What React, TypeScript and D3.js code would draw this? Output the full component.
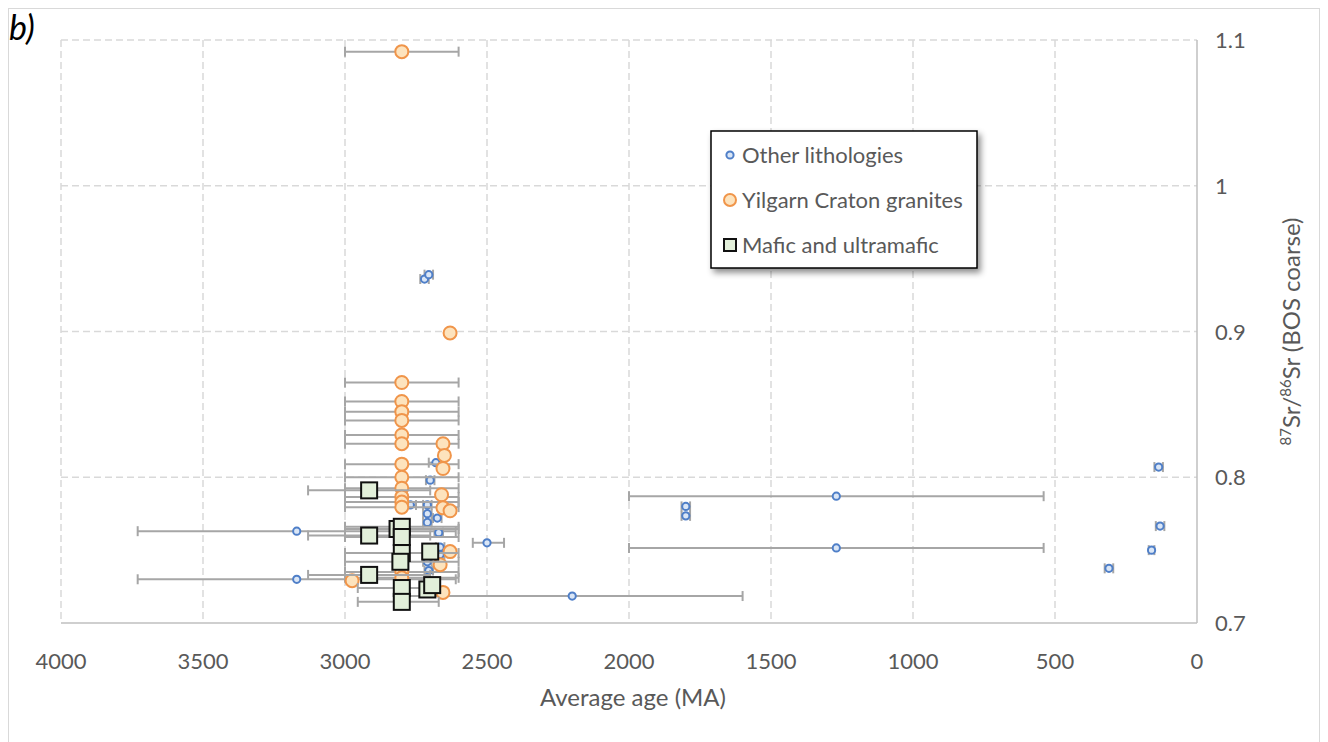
import { useEffect, useRef } from "react";
import * as d3 from "d3";

// [average age, 87Sr/86Sr, age min, age max]
type Row = [number, number, number, number];

const otherLithologies: Row[] = [
  [2720, 0.936, 2735, 2705],
  [2705, 0.939, 2720, 2690],
  [2680, 0.81, 2705, 2660],
  [2700, 0.798, 2715, 2685],
  [2770, 0.781, 2790, 2750],
  [2710, 0.781, 2725, 2695],
  [2710, 0.775, 2725, 2695],
  [2710, 0.769, 2725, 2695],
  [2675, 0.772, 2690, 2660],
  [2670, 0.762, 2685, 2655],
  [2665, 0.752, 2680, 2650],
  [2665, 0.747, 2680, 2650],
  [2710, 0.742, 2725, 2695],
  [2705, 0.736, 2720, 2690],
  [3170, 0.763, 3730, 2610],
  [3170, 0.73, 3730, 2610],
  [2500, 0.755, 2550, 2440],
  [2200, 0.7185, 2800, 1600],
  [1270, 0.787, 2000, 540],
  [1270, 0.7515, 2000, 540],
  [1800, 0.78, 1815, 1785],
  [1800, 0.7735, 1815, 1785],
  [135, 0.807, 150, 120],
  [130, 0.7665, 145, 115],
  [160, 0.75, 170, 150],
  [310, 0.7375, 325, 295],
];

const yilgarnGranites: Row[] = [
  [2800, 1.092, 3000, 2600],
  [2800, 0.865, 3000, 2600],
  [2800, 0.852, 3000, 2600],
  [2800, 0.845, 3000, 2600],
  [2800, 0.839, 3000, 2600],
  [2800, 0.829, 3000, 2600],
  [2800, 0.823, 3000, 2600],
  [2800, 0.809, 3000, 2600],
  [2800, 0.8, 3000, 2600],
  [2800, 0.7925, 3000, 2600],
  [2800, 0.7865, 3000, 2600],
  [2800, 0.783, 3000, 2600],
  [2800, 0.7795, 3000, 2600],
  [2800, 0.735, 3000, 2600],
  [2800, 0.731, 3000, 2600],
  [2630, 0.899, 2640, 2620],
  [2655, 0.823, 2660, 2650],
  [2650, 0.815, 2655, 2645],
  [2655, 0.806, 2660, 2650],
  [2660, 0.788, 2665, 2655],
  [2655, 0.779, 2660, 2650],
  [2630, 0.777, 2635, 2625],
  [2630, 0.749, 2635, 2625],
  [2665, 0.74, 2670, 2660],
  [2655, 0.721, 2660, 2650],
  [2975, 0.729, 2985, 2965],
];

const maficUltramafic: Row[] = [
  [2915, 0.791, 3130, 2700],
  [2915, 0.76, 3130, 2700],
  [2915, 0.733, 3130, 2700],
  [2815, 0.7645, 3000, 2600],
  [2800, 0.766, 3000, 2600],
  [2800, 0.759, 3000, 2600],
  [2800, 0.748, 3000, 2600],
  [2805, 0.742, 3000, 2600],
  [2800, 0.724, 2955, 2670],
  [2800, 0.7145, 2955, 2670],
  [2700, 0.749, 2710, 2690],
  [2710, 0.723, 2720, 2700],
  [2693, 0.726, 2705, 2680],
];

const xTicks = [4000, 3500, 3000, 2500, 2000, 1500, 1000, 500, 0];
const yTicks = [0.7, 0.8, 0.9, 1, 1.1];
const legendLabels = ["Other lithologies", "Yilgarn Craton granites", "Mafic and ultramafic"];

const FONT = "Lato, 'Open Sans', sans-serif";
const TEXT = "#595959";

export default function App() {
  const svgRef = useRef<SVGSVGElement | null>(null);

  useEffect(() => {
    document.body.style.margin = "0";
    const width = 1328;
    const height = 742;
    const plot = { left: 61, right: 1197, top: 40, bottom: 623 };

    const svg = d3.select(svgRef.current);
    svg.selectAll("*").remove(); // clean before drawing
    svg.attr("width", width).attr("height", height).style("display", "block");

    const x = d3.scaleLinear().domain([4000, 0]).range([plot.left, plot.right]);
    const y = d3.scaleLinear().domain([0.7, 1.1]).range([plot.bottom, plot.top]);

    svg
      .append("rect")
      .attr("x", 8.5)
      .attr("y", 8.5)
      .attr("width", 1311)
      .attr("height", 740)
      .attr("fill", "#fff")
      .attr("stroke", "#d9d9d9");

    svg
      .append("text")
      .attr("x", 9)
      .attr("y", 40)
      .attr("font-family", FONT)
      .attr("font-style", "italic")
      .attr("font-size", 34)
      .attr("fill", "#000")
      .text("b)");

    // gridlines
    const grid = svg.append("g").attr("stroke", "#d9d9d9").attr("stroke-width", 1.5).attr("stroke-dasharray", "7,4");
    xTicks
      .filter((t) => t !== 0)
      .forEach((t) => {
        grid.append("line").attr("x1", x(t)).attr("x2", x(t)).attr("y1", y(1.1)).attr("y2", y(0.7));
      });
    yTicks
      .filter((t) => t !== 0.7)
      .forEach((t) => {
        grid.append("line").attr("x1", x(4000)).attr("x2", x(0)).attr("y1", y(t)).attr("y2", y(t));
      });

    // axis lines
    svg
      .append("line")
      .attr("x1", x(4000))
      .attr("x2", x(0))
      .attr("y1", y(0.7))
      .attr("y2", y(0.7))
      .attr("stroke", "#bfbfbf")
      .attr("stroke-width", 1.5);
    svg
      .append("line")
      .attr("x1", x(0))
      .attr("x2", x(0))
      .attr("y1", y(1.1))
      .attr("y2", y(0.7))
      .attr("stroke", "#bfbfbf")
      .attr("stroke-width", 1.5);

    // tick labels
    svg
      .append("g")
      .selectAll("text")
      .data(xTicks)
      .join("text")
      .attr("x", (d) => x(d))
      .attr("y", 669)
      .attr("text-anchor", "middle")
      .attr("font-family", FONT)
      .attr("font-size", 22)
      .attr("fill", TEXT)
      .text((d) => String(d));

    svg
      .append("g")
      .selectAll("text")
      .data(yTicks)
      .join("text")
      .attr("x", 1215)
      .attr("y", (d) => y(d) + 8)
      .attr("font-family", FONT)
      .attr("font-size", 22)
      .attr("fill", TEXT)
      .text((d) => String(d));

    svg
      .append("text")
      .attr("x", (plot.left + plot.right) / 2 + 4)
      .attr("y", 706)
      .attr("text-anchor", "middle")
      .attr("font-family", FONT)
      .attr("font-size", 24)
      .attr("fill", TEXT)
      .text("Average age (MA)");

    const yTitle = svg
      .append("text")
      .attr("transform", `translate(1300,${(plot.top + plot.bottom) / 2}) rotate(-90)`)
      .attr("text-anchor", "middle")
      .attr("font-family", FONT)
      .attr("font-size", 24)
      .attr("fill", TEXT);
    yTitle.append("tspan").attr("font-size", 15).attr("dy", -9).text("87");
    yTitle.append("tspan").attr("dy", 9).text("Sr/");
    yTitle.append("tspan").attr("font-size", 15).attr("dy", -9).text("86");
    yTitle.append("tspan").attr("dy", 9).text("Sr (BOS coarse)");

    const errorBars = (rows: Row[]) => {
      const g = svg.append("g").attr("stroke", "#a6a6a6").attr("stroke-width", 2).attr("fill", "none");
      rows.forEach((r) => {
        const yy = y(r[1]);
        g.append("line").attr("x1", x(r[2])).attr("x2", x(r[3])).attr("y1", yy).attr("y2", yy);
        [r[2], r[3]].forEach((v) => {
          g.append("line").attr("x1", x(v)).attr("x2", x(v)).attr("y1", yy - 5).attr("y2", yy + 5);
        });
      });
    };

    // other lithologies
    errorBars(otherLithologies);
    svg
      .append("g")
      .selectAll("circle")
      .data(otherLithologies)
      .join("circle")
      .attr("cx", (d) => x(d[0]))
      .attr("cy", (d) => y(d[1]))
      .attr("r", 3.6)
      .attr("fill", "#dae6f6")
      .attr("stroke", "#4f7fc8")
      .attr("stroke-width", 2);

    // yilgarn craton granites
    errorBars(yilgarnGranites);
    svg
      .append("g")
      .selectAll("circle")
      .data(yilgarnGranites)
      .join("circle")
      .attr("cx", (d) => x(d[0]))
      .attr("cy", (d) => y(d[1]))
      .attr("r", 6.5)
      .attr("fill", "#fde3bd")
      .attr("stroke", "#f0954a")
      .attr("stroke-width", 2);

    // mafic and ultramafic
    errorBars(maficUltramafic);
    svg
      .append("g")
      .selectAll("rect")
      .data(maficUltramafic)
      .join("rect")
      .attr("x", (d) => x(d[0]) - 8)
      .attr("y", (d) => y(d[1]) - 8)
      .attr("width", 16)
      .attr("height", 16)
      .attr("fill", "#e2efda")
      .attr("stroke", "#111")
      .attr("stroke-width", 2);

    // legend
    const defs = svg.append("defs");
    const filter = defs.append("filter").attr("id", "shadow").attr("x", "-10%").attr("y", "-10%").attr("width", "130%").attr("height", "140%");
    filter.append("feDropShadow").attr("dx", 3).attr("dy", 4).attr("stdDeviation", 3).attr("flood-color", "#000").attr("flood-opacity", 0.45);

    const lg = svg.append("g").attr("transform", "translate(711,131)");
    lg.append("rect")
      .attr("width", 266)
      .attr("height", 137)
      .attr("fill", "#fff")
      .attr("stroke", "#000")
      .attr("stroke-width", 1.5)
      .attr("filter", "url(#shadow)");

    legendLabels.forEach((label, i) => {
      const cy = 24 + i * 45;
      if (i === 0) {
        lg.append("circle").attr("cx", 19).attr("cy", cy).attr("r", 3.6).attr("fill", "#dae6f6").attr("stroke", "#4f7fc8").attr("stroke-width", 2);
      } else if (i === 1) {
        lg.append("circle").attr("cx", 19).attr("cy", cy).attr("r", 6).attr("fill", "#fde3bd").attr("stroke", "#f0954a").attr("stroke-width", 2);
      } else {
        lg.append("rect").attr("x", 13).attr("y", cy - 6).attr("width", 12).attr("height", 12).attr("fill", "#e2efda").attr("stroke", "#111").attr("stroke-width", 2);
      }
      lg.append("text")
        .attr("x", 31)
        .attr("y", cy + 8)
        .attr("font-family", FONT)
        .attr("font-size", 22)
        .attr("fill", TEXT)
        .text(label);
    });
  }, []);

  return <svg ref={svgRef} role="img" aria-label="87Sr/86Sr versus average age"></svg>;
}
